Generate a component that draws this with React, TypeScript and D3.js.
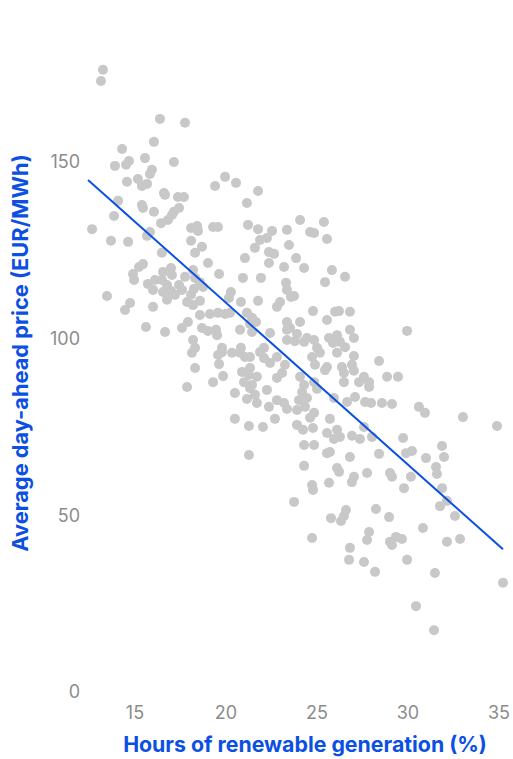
import React from "react";
import * as d3 from "d3";

const xTicks = [15, 20, 25, 30, 35];
const yTicks = [0, 50, 100, 150];

// renewable share (%) per day
const renewable = [
  13.24, 13.13, 16.37, 17.75, 16.04, 14.29, 15.55, 17.14, 13.9, 14.51, 14.67, 15.93, 15.82, 14.56, 15.16, 15.38, 15.66, 16.59, 16.65, 17.36, 17.69, 19.4, 19.95, 14.07, 15.38,
  20.55, 21.76, 21.15,
  13.85, 12.64, 13.68, 14.62, 15.44, 16.04, 16.43, 16.81, 17.03, 17.42, 17.14, 18.08, 18.41, 18.46, 19.29, 19.56, 15.82, 15.66, 18.08, 18.68, 18.3, 19.01, 19.62, 16.48, 15.44, 15.22, 14.89, 14.95, 15.71, 16.1, 16.54, 16.98, 17.03, 16.48, 16.76, 17.42, 17.58, 16.98, 16.54, 15.99, 17.75, 18.19, 18.3, 18.57, 18.74, 18.24, 18.08, 17.2, 16.76, 17.86, 18.57, 18.19, 13.46, 14.73, 14.45, 15.99, 18.57, 19.12, 19.56, 19.95, 15.6, 16.65, 17.58, 17.91, 18.68, 19.01, 19.45, 19.51, 18.19, 19.78, 18.3,
  24.07, 25.38, 21.21, 21.76, 22.53, 23.35, 24.62, 24.84, 25.55, 21.87, 22.25, 21.59, 23.46, 22.36, 22.64, 21.04, 23.85, 22.36, 23.19, 24.29, 25.82, 26.54, 25.44, 20.93, 21.92, 23.3, 23.35, 23.57, 23.74, 20.27, 20.16, 20.82, 21.76, 22.97, 22.8, 24.78, 25.99, 26.21, 26.81, 20.22, 21.15, 21.43, 25.55, 23.35, 24.07, 21.32, 21.65, 20.77, 21.43, 22.42, 23.35, 23.52, 23.9, 26.81, 27.03, 26.1, 25.66, 24.84, 24.45, 24.29, 23.35, 23.79, 26.26, 25.88, 20.82, 22.09, 25.0, 26.54,
  29.95,
  18.13, 18.3, 17.86, 19.56, 19.78, 19.62, 19.29, 19.84,
  20.33, 20.77, 21.04, 21.32, 21.87, 22.09, 22.42, 22.8, 23.24, 24.73, 25.16, 24.89, 25.55, 25.44, 26.1, 27.03, 26.37, 26.92, 27.03, 20.88, 21.32, 21.26, 21.7, 20.99, 21.43, 23.08, 22.8, 24.07, 24.29, 24.84, 25.0, 26.48, 26.48, 27.31, 27.58, 20.49, 21.32, 21.59, 22.25, 21.15, 21.7, 22.8, 23.19, 23.35, 22.36, 24.01, 24.18, 24.45, 23.9, 24.34, 24.84, 25.93, 26.65, 27.09, 27.64, 20.49, 21.26, 22.03, 22.69, 23.9, 24.23, 24.62, 24.78, 25.71, 25.55, 26.1, 26.26, 25.93, 26.92, 27.36, 27.58, 24.29, 24.84, 25.55, 25.71, 26.81, 21.26, 24.29, 26.1, 26.21, 27.03, 26.92, 25.66, 24.73, 24.78, 27.75,
  28.41, 28.85, 29.45, 27.86, 27.86, 27.97, 28.57, 29.12, 30.6, 30.93, 33.02, 34.89, 28.02, 29.73, 28.41, 29.89, 30.22, 30.99, 31.87, 31.98, 31.54, 31.59, 29.01, 29.12, 30.16, 29.78, 31.87,
  23.74, 25.77, 26.32, 26.48, 26.59, 24.73, 26.81, 26.76, 27.58, 27.75, 27.86,
  28.24, 28.96, 31.76, 32.14, 32.58, 30.82, 29.01, 29.12, 29.34, 29.67, 32.14, 32.86, 29.95, 28.19, 31.48, 35.22, 30.44, 31.43,
];

// average day-ahead price (EUR/MWh) per day
const price = [
  176.1, 172.9, 162.2, 161.1, 155.7, 153.7, 151.1, 150.0, 148.9, 149.2, 150.3, 147.8, 146.6, 144.4, 145.2, 143.2, 143.8, 141.2, 140.7, 140.1, 140.1, 143.2, 145.8, 139.0, 137.8,
  144.1, 141.8, 138.4,
  134.7, 131.0, 127.7, 127.4, 137.0, 135.9, 132.7, 133.6, 135.0, 137.0, 135.9, 131.3, 131.9, 130.5, 131.6, 131.6, 130.2, 129.1, 127.7, 126.0, 124.3, 121.4, 118.3, 124.3, 121.1, 120.3, 118.3, 116.6, 115.5, 116.6, 118.9, 120.0, 118.0, 116.6, 115.2, 115.2, 113.8, 113.5, 113.2, 113.8, 117.5, 119.4, 117.2, 116.0, 114.6, 114.1, 112.4, 112.4, 111.0, 110.4, 110.7, 109.5, 112.1, 110.1, 108.1, 109.0, 106.7, 107.0, 107.3, 107.0, 103.3, 101.9, 103.0, 104.7, 103.0, 102.2, 102.5, 101.0, 99.6, 97.4, 97.4,
  133.6, 133.0, 132.2, 131.0, 130.5, 130.8, 130.2, 129.9, 128.2, 127.9, 128.5, 125.7, 126.5, 124.5, 124.0, 122.8, 122.8, 121.4, 120.3, 120.0, 119.4, 117.5, 116.0, 117.2, 117.2, 115.8, 113.8, 111.8, 112.1, 113.2, 111.5, 110.4, 110.7, 110.4, 109.0, 107.8, 107.6, 107.8, 107.6, 107.3, 107.3, 105.9, 105.3, 104.7, 104.7, 104.2, 104.7, 102.5, 101.9, 101.6, 102.5, 103.0, 101.3, 102.5, 100.2, 101.0, 100.2, 99.6, 100.2, 99.1, 99.6, 99.3, 99.1, 98.8, 97.4, 97.4, 97.4, 97.6,
  102.2,
  96.0, 91.7, 86.3, 95.4, 96.2, 92.8, 87.7, 89.4,
  96.0, 96.0, 94.8, 94.8, 96.2, 94.5, 93.1, 94.8, 92.6, 94.8, 96.0, 92.6, 92.0, 91.1, 96.0, 95.1, 92.0, 92.6, 90.9, 90.6, 91.7, 89.7, 89.2, 87.7, 86.9, 90.3, 88.9, 89.2, 86.9, 87.7, 85.8, 90.3, 87.7, 87.7, 89.2, 84.6, 86.0, 84.1, 85.5, 82.9, 81.8, 82.6, 81.8, 80.1, 80.7, 82.6, 84.9, 83.2, 79.8, 80.7, 79.0, 83.2, 82.1, 83.5, 82.1, 77.3, 75.3, 75.0, 77.3, 75.6, 74.2, 77.6, 74.7, 77.3, 73.3, 74.2, 72.2, 71.6, 72.5, 71.6, 75.0, 69.9, 69.9, 67.6, 67.9, 66.5, 67.1, 64.0, 63.4, 62.3, 60.9, 59.4, 59.2, 58.6, 57.2, 62.0,
  93.7, 89.2, 89.2, 87.7, 86.3, 81.8, 81.8, 81.5, 80.7, 79.0, 77.8, 75.3, 72.2, 71.9, 67.4, 67.6, 68.2, 66.2, 69.6, 66.5, 63.7, 61.7, 62.0, 60.9, 60.9, 57.7, 57.7,
  53.8, 49.2, 48.4, 49.8, 51.5, 43.6, 40.8, 37.4, 36.8, 43.0, 45.3,
  51.8, 49.5, 52.6, 54.1, 49.8, 46.4, 42.5, 41.6, 43.9, 43.3, 42.5, 43.3, 37.4, 34.0, 33.7, 30.9, 24.3, 17.5,
];

const W = 513;
const H = 759;

export default function App() {
  const x = d3.scaleLinear().domain([15, 35]).range([135, 499]);
  const y = d3.scaleLinear().domain([0, 150]).range([692, 162]);

  const pts = renewable.map((r, i) => ({ r, p: price[i] }));
  const mx = d3.mean(renewable) as number;
  const my = d3.mean(price) as number;
  const sxy = d3.sum(pts, (d) => (d.r - mx) * (d.p - my));
  const sxx = d3.sum(pts, (d) => (d.r - mx) * (d.r - mx));
  const slope = sxy / sxx;
  const icpt = my - slope * mx;
  const x0 = x.invert(88);
  const x1 = x.invert(503);
  const line = d3
    .line<number>()
    .x((d) => x(d))
    .y((d) => y(icpt + slope * d));

  const font = "Inter, 'Noto Sans', sans-serif";
  const blue = "#0b50e3";

  return (
    <svg
      width={W}
      height={H}
      style={{ position: "absolute", left: 0, top: 0, background: "#fff" }}
      fontFamily={font}
    >
      {pts.map((d, i) => (
        <circle key={i} cx={x(d.r)} cy={y(d.p)} r={5} fill="#c8c8c8" />
      ))}
      <path d={line([x0, x1]) || ""} stroke={blue} strokeWidth={2} fill="none" />
      {yTicks.map((t) => (
        <text key={t} x={80} y={y(t)} dy="0.35em" textAnchor="end" fontSize={18} fill="#8c8c8c">
          {t}
        </text>
      ))}
      {xTicks.map((t) => (
        <text key={t} x={x(t)} y={719} textAnchor="middle" fontSize={18} fill="#8c8c8c">
          {t}
        </text>
      ))}
      <text x={305} y={752} textAnchor="middle" fontSize={21.3} fontWeight={700} fill={blue}>
        Hours of renewable generation (%)
      </text>
      <text
        transform={`translate(28,353) rotate(-90)`}
        textAnchor="middle"
        fontSize={21.8}
        fontWeight={700}
        fill={blue}
      >
        Average day-ahead price (EUR/MWh)
      </text>
    </svg>
  );
}
